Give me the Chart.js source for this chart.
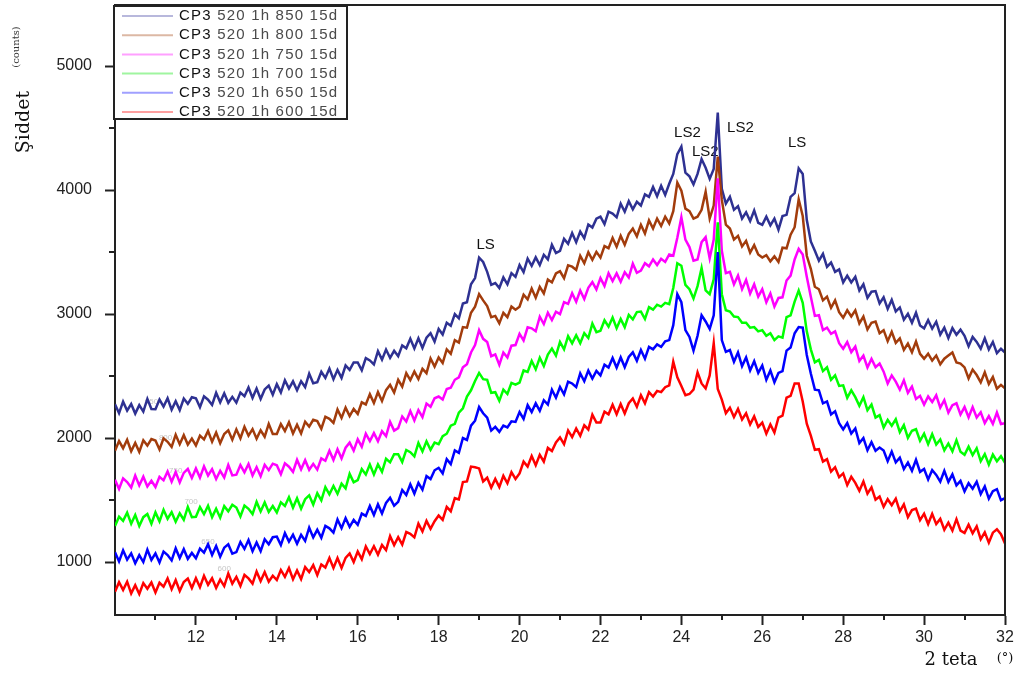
<!DOCTYPE html>
<html>
<head>
<meta charset="utf-8">
<script src="https://cdn.jsdelivr.net/npm/chart.js@4.4.1/dist/chart.umd.min.js"></script>
<style>
  html, body { margin: 0; padding: 0; background: #ffffff; }
  canvas { display: block; }
</style>
</head>
<body>
<canvas id="xrd" width="1024" height="677"></canvas>
<script>
// XRD scans of CP3 samples, 2-theta from 10 to 32 deg sampled every 0.1 deg
const thetaStart = 10;
const thetaStep = 0.1;

const seriesLabels = [
  'CP3 520 1h 850 15d',
  'CP3 520 1h 800 15d',
  'CP3 520 1h 750 15d',
  'CP3 520 1h 700 15d',
  'CP3 520 1h 650 15d',
  'CP3 520 1h 600 15d'
];

const xTickLabels = [12, 14, 16, 18, 20, 22, 24, 26, 28, 30, 32];
const yTickLabels = [1000, 2000, 3000, 4000, 5000];

// small temperature tags near the start of each scan
const tempLabels = ['850', '800', '750', '700', '650', '600'];
const tempLabelTheta = [10.9, 11.25, 11.5, 11.88, 12.3, 12.7];
const tempLabelCounts = [2290, 2000, 1735, 1485, 1160, 944];

// phase markers
const peakLabels = ['LS', 'LS2', 'LS2', 'LS2', 'LS'];
const peakTheta = [19.16, 24.15, 24.59, 25.46, 26.86];
const peakCounts = [3556, 4460, 4306, 4500, 4379];

const cp850 = [
  2272, 2200, 2293, 2221, 2274, 2197, 2265, 2213, 2316, 2234,
  2232, 2310, 2253, 2321, 2229, 2297, 2225, 2318, 2276, 2329,
  2320, 2248, 2336, 2309, 2267, 2365, 2288, 2361, 2284, 2332,
  2285, 2366, 2337, 2408, 2324, 2400, 2316, 2392, 2423, 2349,
  2435, 2368, 2466, 2399, 2457, 2385, 2458, 2411, 2519, 2442,
  2450, 2535, 2485, 2560, 2475, 2550, 2485, 2585, 2550, 2610,
  2610, 2547, 2644, 2626, 2593, 2700, 2632, 2714, 2646, 2703,
  2660, 2747, 2724, 2801, 2723, 2805, 2727, 2809, 2846, 2778,
  2880, 2835, 2930, 2905, 3000, 2965, 3085, 3095, 3240, 3290,
  3455, 3420, 3340, 3235, 3250, 3210, 3295, 3240, 3330, 3300,
  3395, 3338, 3446, 3389, 3457, 3395, 3478, 3441, 3559, 3492,
  3510, 3606, 3567, 3653, 3579, 3665, 3611, 3722, 3698, 3769,
  3785, 3725, 3825, 3810, 3780, 3890, 3825, 3910, 3845, 3905,
  3875, 3965, 3945, 4025, 3950, 4035, 3960, 4050, 4130, 4290,
  4350, 4140, 4110, 4045, 4130, 4250, 4180, 4090, 4170, 4625,
  4010, 3890, 3945, 3840, 3870, 3770, 3820, 3750, 3835, 3735,
  3720, 3785, 3715, 3770, 3680, 3790, 3800, 3945, 3975, 4175,
  4130, 3760, 3585, 3510, 3430, 3485, 3380, 3415, 3340, 3360,
  3255, 3310, 3255, 3300, 3190, 3240, 3130, 3180, 3185, 3085,
  3135, 3042, 3114, 3021, 3053, 2955, 3002, 2929, 3011, 2908,
  2885, 2951, 2882, 2938, 2834, 2890, 2806, 2887, 2833, 2874,
  2825, 2740, 2815, 2775, 2720, 2805, 2715, 2775, 2685, 2720,
  2690
];

const cp800 = [
  1898, 1976, 1918, 1986, 1894, 1961, 1889, 1982, 1939, 1992,
  1980, 1908, 1997, 1970, 1928, 2027, 1950, 2023, 1947, 1995,
  1940, 2019, 1988, 2057, 1971, 2045, 1959, 2033, 2062, 1986,
  2070, 1998, 2091, 2019, 2072, 1995, 2063, 2011, 2114, 2032,
  2032, 2112, 2057, 2127, 2037, 2107, 2037, 2132, 2092, 2147,
  2137, 2075, 2172, 2155, 2122, 2230, 2162, 2245, 2177, 2235,
  2195, 2288, 2271, 2354, 2282, 2370, 2298, 2386, 2429, 2367,
  2470, 2414, 2523, 2467, 2536, 2475, 2559, 2523, 2642, 2576,
  2650, 2605, 2715, 2680, 2790, 2770, 2895, 2890, 3010, 3060,
  3160, 3110, 3065, 2975, 2985, 2925, 3010, 2975, 3060, 3035,
  3059, 3156, 3118, 3205, 3132, 3219, 3166, 3278, 3255, 3327,
  3345, 3289, 3393, 3382, 3356, 3470, 3409, 3498, 3437, 3501,
  3455, 3548, 3531, 3614, 3542, 3630, 3558, 3646, 3689, 3627,
  3720, 3650, 3755, 3690, 3770, 3710, 3785, 3730, 3830, 4060,
  3995, 3850, 3830, 3770, 3785, 3840, 3985, 3770, 3875, 4270,
  3920, 3720, 3690, 3600, 3630, 3545, 3590, 3495, 3555, 3480,
  3455, 3475, 3425, 3465, 3420, 3535, 3530, 3640, 3700, 3925,
  3790, 3470, 3365, 3220, 3200, 3110, 3140, 3050, 3110, 3015,
  2970, 3030, 2980, 3030, 2925, 2980, 2875, 2930, 2940, 2845,
  2870, 2781, 2857, 2768, 2804, 2710, 2761, 2692, 2778, 2679,
  2640, 2680, 2625, 2665, 2595, 2640, 2665, 2690, 2610, 2600,
  2570, 2481, 2552, 2508, 2449, 2530, 2436, 2492, 2398, 2429,
  2400
];

const cp750 = [
  1663, 1589, 1675, 1645, 1601, 1697, 1618, 1688, 1609, 1655,
  1605, 1687, 1659, 1731, 1648, 1725, 1642, 1719, 1751, 1678,
  1755, 1681, 1772, 1698, 1749, 1670, 1736, 1682, 1783, 1699,
  1705, 1782, 1724, 1791, 1698, 1765, 1692, 1784, 1741, 1793,
  1780, 1708, 1796, 1769, 1727, 1825, 1748, 1821, 1744, 1792,
  1745, 1836, 1817, 1898, 1824, 1910, 1836, 1922, 1963, 1899,
  1990, 1930, 2035, 1975, 2040, 1975, 2055, 2015, 2130, 2060,
  2080, 2174, 2133, 2217, 2141, 2225, 2169, 2278, 2252, 2321,
  2335, 2310, 2395, 2405, 2470, 2490, 2570, 2595, 2690, 2750,
  2870, 2800, 2775, 2660, 2675, 2590, 2690, 2650, 2745, 2750,
  2840, 2787, 2893, 2885, 2861, 2978, 2919, 3011, 2952, 3019,
  3000, 3096, 3082, 3168, 3099, 3190, 3121, 3212, 3258, 3199,
  3290, 3227, 3329, 3266, 3328, 3260, 3337, 3294, 3406, 3333,
  3350, 3410, 3385, 3440, 3395, 3445, 3420, 3480, 3470, 3615,
  3780, 3600, 3540, 3430, 3440, 3580, 3620, 3450, 3600, 4095,
  3510, 3330, 3340, 3240, 3310, 3200, 3275, 3165, 3240, 3140,
  3200, 3095, 3165, 3060, 3130, 3135, 3270, 3310, 3440, 3525,
  3480, 3300, 3140, 2985, 2990, 2870, 2890, 2840, 2860, 2765,
  2720, 2774, 2693, 2737, 2621, 2665, 2569, 2638, 2572, 2601,
  2535, 2440, 2505, 2455, 2390, 2465, 2365, 2415, 2315, 2340,
  2270, 2335, 2290, 2345, 2245, 2305, 2205, 2265, 2280, 2190,
  2250, 2167, 2249, 2166, 2208, 2120, 2177, 2114, 2206, 2113,
  2120
];

const cp700 = [
  1290, 1366, 1332, 1398, 1309, 1380, 1291, 1362, 1388, 1309,
  1400, 1328, 1421, 1349, 1402, 1325, 1393, 1341, 1444, 1362,
  1365, 1443, 1386, 1454, 1362, 1430, 1358, 1451, 1409, 1462,
  1440, 1368, 1456, 1429, 1387, 1485, 1408, 1481, 1404, 1452,
  1400, 1481, 1452, 1523, 1439, 1515, 1431, 1507, 1538, 1464,
  1555, 1497, 1604, 1546, 1613, 1550, 1632, 1594, 1711, 1643,
  1660, 1750, 1706, 1786, 1707, 1787, 1728, 1833, 1804, 1869,
  1870, 1807, 1904, 1886, 1853, 1960, 1892, 1974, 1906, 1963,
  1950, 2015, 2035, 2100, 2115, 2205, 2240, 2335, 2385, 2460,
  2525, 2475, 2470, 2365, 2370, 2300, 2390, 2355, 2445, 2430,
  2447, 2545, 2533, 2621, 2554, 2647, 2580, 2673, 2721, 2664,
  2775, 2716, 2822, 2763, 2829, 2765, 2846, 2807, 2923, 2854,
  2865, 2949, 2898, 2972, 2886, 2960, 2894, 2993, 2957, 3016,
  3020, 2960, 3055, 3035, 3075, 3060, 3090, 3080, 3210, 3410,
  3390, 3235, 3200, 3125, 3225, 3370, 3190, 3160, 3280, 3740,
  3160, 3030, 3020, 2980, 2975, 2930, 2930, 2890, 2895, 2860,
  2870, 2825, 2845, 2790, 2820, 2810, 2975, 2990, 3100, 3190,
  3090, 2860, 2715, 2610, 2630, 2540, 2570, 2470, 2505, 2420,
  2425, 2325, 2385, 2330, 2260, 2330, 2225, 2270, 2165, 2185,
  2085, 2147, 2099, 2151, 2048, 2105, 2002, 2059, 2071, 1978,
  2035, 1951, 2032, 1948, 1989, 1900, 1956, 1892, 1983, 1889,
  1865, 1931, 1862, 1918, 1814, 1870, 1786, 1867, 1813, 1854,
  1800
];

const cp650 = [
  1080, 1005, 1095, 1020, 1070, 990, 1055, 1000, 1100, 1017,
  1070, 997, 1084, 1056, 1013, 1110, 1032, 1104, 1026, 1073,
  1030, 1108, 1076, 1144, 1057, 1130, 1043, 1116, 1144, 1067,
  1080, 1161, 1106, 1177, 1087, 1158, 1088, 1184, 1144, 1200,
  1205, 1137, 1233, 1165, 1221, 1148, 1219, 1171, 1277, 1199,
  1260, 1196, 1291, 1272, 1237, 1343, 1273, 1354, 1284, 1340,
  1300, 1391, 1372, 1453, 1379, 1465, 1391, 1477, 1518, 1454,
  1485, 1581, 1541, 1627, 1552, 1638, 1583, 1694, 1669, 1740,
  1760, 1715, 1830, 1790, 1900, 1880, 2000, 1985, 2100, 2140,
  2250, 2200, 2165, 2060, 2090, 2050, 2100, 2085, 2135, 2130,
  2210, 2155, 2265, 2210, 2280, 2220, 2305, 2270, 2390, 2325,
  2412, 2353, 2454, 2440, 2411, 2522, 2458, 2544, 2480, 2541,
  2505, 2592, 2569, 2646, 2568, 2650, 2572, 2654, 2691, 2623,
  2710, 2640, 2735, 2715, 2755, 2735, 2780, 2790, 2910, 3160,
  3095, 2870, 2815, 2705, 2825, 2990, 2940, 2880, 2990, 3500,
  2790, 2695, 2710, 2615, 2690, 2580, 2650, 2545, 2620, 2525,
  2585, 2470, 2545, 2450, 2525, 2540, 2705, 2730, 2845, 2895,
  2890, 2670, 2520, 2390, 2385, 2280, 2295, 2190, 2215, 2120,
  2070, 2121, 2037, 2078, 1959, 2000, 1901, 1967, 1898, 1924,
  1900, 1813, 1891, 1804, 1842, 1750, 1803, 1736, 1824, 1727,
  1750, 1666, 1742, 1703, 1649, 1735, 1646, 1707, 1618, 1654,
  1570, 1636, 1592, 1648, 1549, 1610, 1511, 1572, 1588, 1499,
  1515
];

const cp600 = [
  760, 837, 775, 842, 747, 813, 742, 830, 785, 835,
  755, 833, 801, 868, 781, 854, 767, 839, 867, 790,
  870, 797, 889, 817, 869, 791, 858, 806, 908, 825,
  880, 808, 896, 868, 826, 924, 847, 919, 842, 890,
  855, 936, 881, 952, 862, 933, 863, 959, 919, 975,
  895, 981, 956, 1032, 952, 1033, 953, 1034, 1069, 1000,
  1085, 1023, 1126, 1064, 1127, 1060, 1138, 1096, 1209, 1137,
  1200, 1141, 1242, 1228, 1199, 1310, 1246, 1332, 1268, 1329,
  1375, 1340, 1445, 1410, 1515, 1505, 1645, 1650, 1770, 1765,
  1755, 1650, 1680, 1600, 1670, 1605, 1695, 1635, 1725, 1670,
  1715, 1810, 1770, 1855, 1780, 1865, 1810, 1920, 1895, 1965,
  2005, 1951, 2061, 2007, 2077, 2018, 2103, 2069, 2189, 2125,
  2125, 2213, 2191, 2269, 2192, 2275, 2198, 2281, 2319, 2252,
  2345, 2280, 2370, 2335, 2380, 2370, 2410, 2425, 2615, 2490,
  2420, 2345, 2355, 2390, 2530, 2440, 2400, 2505, 2765, 2395,
  2310, 2200, 2245, 2170, 2235, 2150, 2200, 2110, 2175, 2090,
  2125, 2035, 2110, 2045, 2165, 2180, 2325, 2340, 2440, 2440,
  2295, 2115, 2020, 1905, 1910, 1810, 1830, 1730, 1765, 1685,
  1715, 1621, 1687, 1638, 1574, 1650, 1551, 1602, 1503, 1529,
  1445, 1507, 1459, 1511, 1408, 1465, 1362, 1419, 1431, 1338,
  1390, 1307, 1389, 1306, 1348, 1260, 1317, 1254, 1346, 1253,
  1235, 1301, 1232, 1288, 1184, 1240, 1156, 1237, 1265, 1224,
  1150
];

const seriesValues = [cp850, cp800, cp750, cp700, cp650, cp600];
const lineColors = ['#2e3192', '#a23c0c', '#ff00ff', '#00ff00', '#0000ff', '#ff0000'];
const legendLineColors = ['#b8b8dc', '#dcb8a4', '#ffa0ff', '#a0f5a0', '#a0a0ff', '#ffa0a0'];

const toPoints = vals => vals.map((v, i) => ({ x: Math.round((thetaStart + i * thetaStep) * 100) / 100, y: v }));

const sansFont = '"Liberation Sans", Arial, sans-serif';
const serifFont = '"DejaVu Serif", "Liberation Serif", serif';

const decorations = {
  id: 'decorations',
  beforeDatasetsDraw(chart) {
    const { ctx, scales: { x, y } } = chart;
    ctx.save();
    ctx.textAlign = 'center';
    ctx.textBaseline = 'middle';
    ctx.font = '8px ' + sansFont;
    ctx.fillStyle = '#c6c6c6';
    tempLabels.forEach((t, i) => {
      ctx.fillText(t, x.getPixelForValue(tempLabelTheta[i]), y.getPixelForValue(tempLabelCounts[i]));
    });
    ctx.font = '15px ' + sansFont;
    ctx.fillStyle = '#111111';
    peakLabels.forEach((t, i) => {
      ctx.fillText(t, x.getPixelForValue(peakTheta[i]), y.getPixelForValue(peakCounts[i]));
    });
    ctx.restore();
  },
  afterDraw(chart) {
    const { ctx, chartArea: a, scales: { x, y } } = chart;
    ctx.save();
    ctx.strokeStyle = '#222222';
    ctx.lineWidth = 2;
    // top and right edges of the frame
    ctx.beginPath();
    ctx.moveTo(a.left, a.top);
    ctx.lineTo(a.right, a.top);
    ctx.lineTo(a.right, a.bottom);
    ctx.stroke();

    // minor ticks
    ctx.beginPath();
    for (let v = 11; v <= 31; v += 2) {
      const px = Math.round(x.getPixelForValue(v));
      ctx.moveTo(px, a.bottom);
      ctx.lineTo(px, a.bottom + 5);
    }
    for (let v = 1500; v <= 4500; v += 1000) {
      const py = Math.round(y.getPixelForValue(v));
      ctx.moveTo(a.left - 6, py);
      ctx.lineTo(a.left, py);
    }
    ctx.stroke();

    // legend box
    const bx = a.left - 1, by = a.top + 1, bw = 233, bh = 113;
    ctx.fillStyle = '#ffffff';
    ctx.fillRect(bx, by, bw, bh);
    ctx.strokeRect(bx, by, bw, bh);
    ctx.textAlign = 'left';
    ctx.textBaseline = 'middle';
    ctx.font = '15px ' + sansFont;
    if ('letterSpacing' in ctx) ctx.letterSpacing = '1.2px';
    seriesLabels.forEach((label, i) => {
      const ry = by + 10 + i * 19.2;
      ctx.strokeStyle = legendLineColors[i];
      ctx.lineWidth = 2;
      ctx.beginPath();
      ctx.moveTo(bx + 8, ry);
      ctx.lineTo(bx + 59, ry);
      ctx.stroke();
      const head = label.slice(0, 4);
      const tail = label.slice(4);
      ctx.fillStyle = '#111111';
      ctx.fillText(head, bx + 65, ry);
      const w = ctx.measureText(head).width;
      ctx.fillStyle = '#4a4a4a';
      ctx.fillText(tail, bx + 65 + w, ry);
    });
    if ('letterSpacing' in ctx) ctx.letterSpacing = '0px';

    // axis titles
    ctx.fillStyle = '#111111';
    ctx.textAlign = 'center';
    ctx.textBaseline = 'middle';
    ctx.save();
    ctx.translate(24, 122);
    ctx.rotate(-Math.PI / 2);
    ctx.font = '19px ' + serifFont;
    ctx.fillText('Şiddet', 0, 0);
    ctx.restore();
    ctx.save();
    ctx.translate(16, 47);
    ctx.rotate(-Math.PI / 2);
    ctx.font = '10px ' + serifFont;
    ctx.fillStyle = '#333333';
    ctx.fillText('(counts)', 0, 0);
    ctx.restore();
    ctx.font = '18px ' + serifFont;
    ctx.fillText('2 teta', 951, 660);
    ctx.font = '13px ' + serifFont;
    ctx.fillText('(°)', 1005, 659);
    ctx.restore();
  }
};

new Chart(document.getElementById('xrd'), {
  type: 'line',
  data: {
    datasets: seriesValues.map((vals, i) => ({
      label: seriesLabels[i],
      data: toPoints(vals),
      borderColor: lineColors[i],
      backgroundColor: lineColors[i],
      borderWidth: 2.5,
      pointRadius: 0,
      tension: 0,
      fill: false,
      order: seriesValues.length - i
    }))
  },
  options: {
    responsive: false,
    animation: false,
    devicePixelRatio: 1,
    layout: { padding: { top: 5, right: 19, left: 0, bottom: 0 } },
    plugins: { legend: { display: false }, tooltip: { enabled: false } },
    scales: {
      x: {
        type: 'linear',
        min: 10,
        max: 32,
        afterBuildTicks: s => {
          const t = [];
          for (let v = 10; v <= 32; v += 1) t.push({ value: v });
          s.ticks = t;
        },
        afterFit: s => { s.height = 62; s.paddingLeft = 0; s.paddingRight = 0; },
        ticks: {
          autoSkip: false,
          maxRotation: 0,
          padding: 3,
          color: '#222222',
          font: { size: 16, family: sansFont },
          callback: v => (xTickLabels.includes(v) ? String(v) : '')
        },
        grid: {
          display: true,
          drawOnChartArea: false,
          drawTicks: true,
          tickLength: 10,
          tickWidth: 2,
          tickColor: c => (c.tick && xTickLabels.includes(c.tick.value) ? '#222222' : 'rgba(0,0,0,0)')
        },
        border: { display: true, color: '#222222', width: 2 }
      },
      y: {
        type: 'linear',
        min: 573,
        max: 5492,
        afterBuildTicks: s => {
          s.ticks = yTickLabels.map(v => ({ value: v }));
        },
        afterFit: s => { s.width = 115; s.paddingTop = 0; s.paddingBottom = 0; },
        ticks: {
          padding: 13,
          color: '#222222',
          font: { size: 16, family: sansFont },
          callback: v => String(v)
        },
        grid: {
          display: true,
          drawOnChartArea: false,
          drawTicks: true,
          tickLength: 10,
          tickWidth: 2,
          tickColor: '#222222'
        },
        border: { display: true, color: '#222222', width: 2 }
      }
    }
  },
  plugins: [decorations]
});
</script>
</body>
</html>
